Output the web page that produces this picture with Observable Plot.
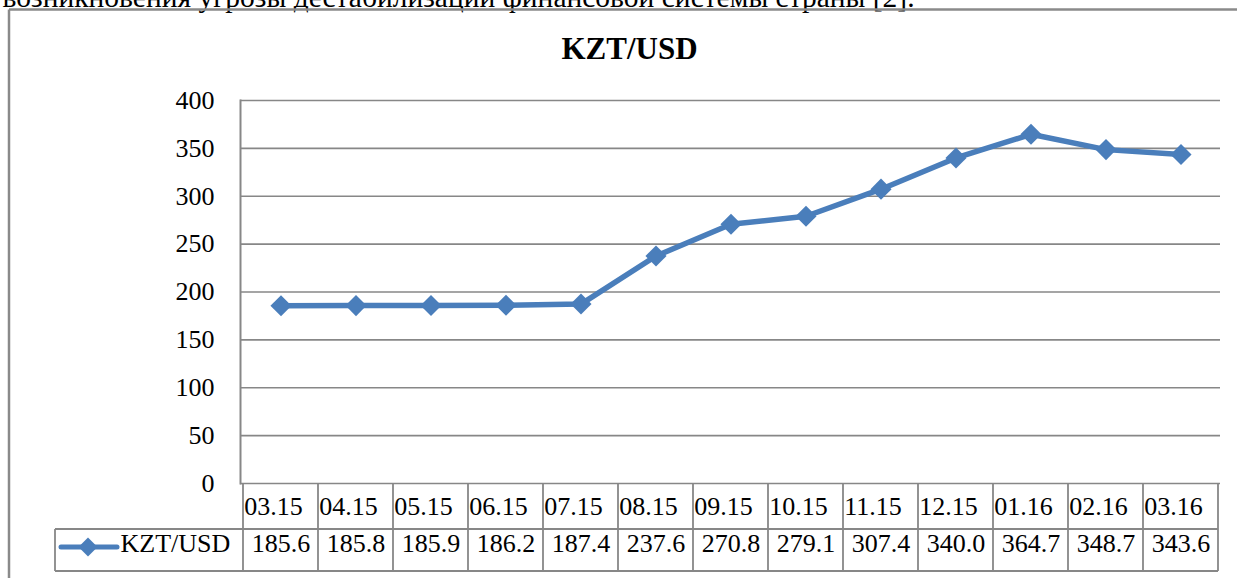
<!DOCTYPE html>
<html>
<head>
<meta charset="utf-8">
<script src="https://cdn.jsdelivr.net/npm/d3@7"></script>
<script src="https://cdn.jsdelivr.net/npm/@observablehq/plot@0.6"></script>
<style>
  html, body { margin: 0; padding: 0; background: #fff; overflow: hidden; }
</style>
</head>
<body>
<div id="chart"></div>
<script>
const categories = ["03.15","04.15","05.15","06.15","07.15","08.15","09.15","10.15","11.15","12.15","01.16","02.16","03.16"];
const values = [185.6,185.8,185.9,186.2,187.4,237.6,270.8,279.1,307.4,340.0,364.7,348.7,343.6];
const valueLabels = ["185.6","185.8","185.9","186.2","187.4","237.6","270.8","279.1","307.4","340.0","364.7","348.7","343.6"];
const yTicks = [0,50,100,150,200,250,300,350,400];
const seriesName = "KZT/USD";
const chartTitle = "KZT/USD";
const leadText = "возникновения угрозы дестабилизации финансовой системы страны [2].";

const data = categories.map((c, i) => ({cat: c, v: values[i], label: valueLabels[i]}));

const BLUE = "#4A7EBB";
const GRID = "#878787";
const FONT = "'Liberation Serif', 'Times New Roman', serif";

const W = 1237, H = 578;
const mL = 240, mR = 17, mT = 100, mB = 95;
const bw = (W - mL - mR) / categories.length;

const chart = Plot.plot({
  width: W, height: H,
  marginLeft: mL, marginRight: mR, marginTop: mT, marginBottom: mB,
  style: {fontFamily: FONT, fontSize: "26px", background: "#fff", color: "#000", overflow: "visible"},
  x: {type: "band", domain: categories, padding: 0, axis: null},
  y: {domain: [0, 400], axis: null, label: null},
  marks: [
    Plot.gridY(yTicks, {stroke: GRID, strokeOpacity: 1, strokeWidth: 1.6}),
    Plot.frame({anchor: "left", stroke: GRID, strokeWidth: 2}),
    Plot.axisY(yTicks, {tickSize: 0, tickPadding: 26, fontSize: 26, fill: "#000", fontFamily: FONT, label: null}),
    Plot.line(data, {x: "cat", y: "v", stroke: BLUE, strokeWidth: 5.5, strokeLinejoin: "round"}),
    Plot.dot(data, {x: "cat", y: "v", symbol: "diamond2", r: 9.5, fill: BLUE, stroke: "none"}),
    // category row of the data table
    Plot.text(categories, {x: d => d, frameAnchor: "bottom", lineAnchor: "middle", dy: 23, dx: -bw / 2 + 1, textAnchor: "start", fontSize: 26, fill: "#000"}),
    // value row of the data table
    Plot.text(data, {x: "cat", text: "label", frameAnchor: "bottom", lineAnchor: "middle", dy: 60, fontSize: 26, fill: "#000"}),
    // legend key label
    Plot.text([seriesName], {frameAnchor: "bottom-left", lineAnchor: "middle", dx: -120, dy: 60, textAnchor: "start", fontSize: 26, fill: "#000"}),
    // title
    Plot.text([chartTitle], {frameAnchor: "top", lineAnchor: "middle", dx: -101, dy: -51, fontSize: 31, fontWeight: "bold", fill: "#000"}),
    // lead text (cut off at top, as in the source page)
    Plot.text([leadText], {frameAnchor: "top-left", lineAnchor: "middle", dx: -238, dy: -103, textAnchor: "start", fontSize: 29.5, fill: "#000"})
  ]
});

// Table grid, legend swatch and outer frame drawn from the chart's own x scale
const xs = chart.scale("x");
const svg = d3.select(chart);
const bandW = xs.bandwidth;
const xEnd = xs.apply(categories[categories.length - 1]) + bandW;
const yTop = H - mB;      // 483
const yMid = yTop + 46;   // 529
const yBot = yTop + 88;   // 571
const legL = 55;

const g = svg.append("g").attr("stroke", GRID).attr("stroke-width", 1.8).attr("fill", "none");
categories.forEach(c => {
  const xl = xs.apply(c);
  g.append("line").attr("x1", xl).attr("x2", xl).attr("y1", yTop).attr("y2", yBot);
});
g.append("line").attr("x1", xEnd).attr("x2", xEnd).attr("y1", yTop).attr("y2", yBot);
g.append("line").attr("x1", legL).attr("x2", xEnd).attr("y1", yMid).attr("y2", yMid);
g.append("line").attr("x1", legL).attr("x2", xEnd).attr("y1", yBot).attr("y2", yBot);
g.append("line").attr("x1", legL).attr("x2", legL).attr("y1", yMid).attr("y2", yBot);

// legend swatch
const sy = yMid + 18;
svg.append("line").attr("x1", 61).attr("x2", 117).attr("y1", sy).attr("y2", sy)
  .attr("stroke", BLUE).attr("stroke-width", 5).attr("stroke-linecap", "round");
svg.append("path").attr("d", d3.symbol(d3.symbolSquare, 180)()).attr("transform", `translate(88,${sy}) rotate(45)`).attr("fill", BLUE);

// outer chart frame
const fr = svg.append("g").attr("stroke", "#8a8a8a").attr("stroke-width", 2.5).attr("fill", "none");
fr.append("line").attr("x1", 9).attr("x2", W + 5).attr("y1", 9.5).attr("y2", 9.5);
fr.append("line").attr("x1", 9).attr("x2", 9).attr("y1", 9.5).attr("y2", H + 5);

document.getElementById("chart").appendChild(chart);
</script>
</body>
</html>
